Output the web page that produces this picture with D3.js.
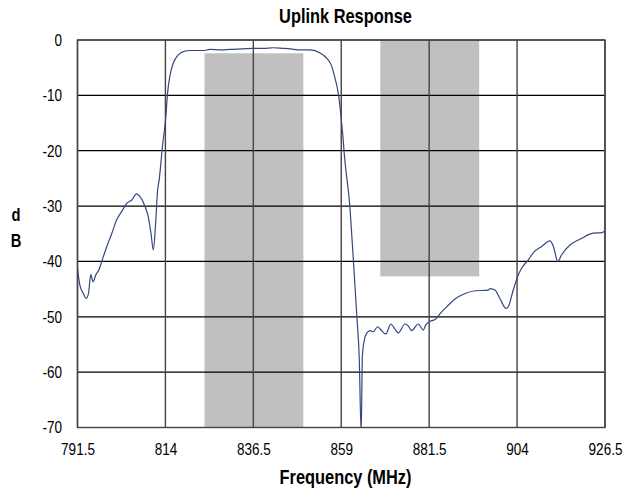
<!DOCTYPE html>
<html>
<head>
<meta charset="utf-8">
<script src="https://cdn.jsdelivr.net/npm/d3@7"></script>
<style>
  body { margin: 0; background: #fff; }
  svg text { font-family: "Liberation Sans", Arial, sans-serif; fill: #000; }
</style>
</head>
<body>
<div class="chart"></div>
<script>
// chart data
const xTicks = [791.5, 814, 836.5, 859, 881.5, 904, 926.5];
const yTicks = [0, -10, -20, -30, -40, -50, -60, -70];

// shaded bands
const bandStart = [824, 869];
const bandEnd = [849.3, 894.3];
const bandTop = [-2.4, 0];
const bandBottom = [-70, -42.7];

// measured response (MHz, dB)
const freq = [
  791.5, 792.1, 793.0, 793.7, 794.3, 794.9, 795.5, 796.2, 797.0, 797.7,
  799.0, 800.3, 801.5, 802.8, 804.1, 805.4, 806.6, 807.5, 808.8, 809.6,
  810.3, 810.9, 811.5, 812.0, 812.4, 813.2, 814.15, 814.5, 815.2, 816.0,
  817.3, 818.6, 820.3, 823.7, 825.4, 828.4, 830.5, 833.5, 836.5, 839,
  841.6, 844, 846, 848.4, 851.0, 853.7, 855.3, 856.6, 857.4, 858.3,
  858.9, 859.4, 859.8, 861.2, 862.1, 863.0, 863.6, 864.1, 864.4, 864.9,
  865.5, 866.4, 867.2, 868.3, 869.2, 870.4, 871.7, 872.6, 873.6, 875.3,
  876.2, 877.0, 878.7, 880.0, 880.6, 881.5, 883.0, 884.7, 886.0, 888.1,
  890.7, 893.3, 896.6, 897.1, 898.4, 899.6, 901.2, 901.8, 903.0, 904.1,
  905.2, 906.9, 908.2, 910.3, 912.4, 913.3, 914.4, 915.4, 917.6, 920.1,
  923.5, 925.7, 926.5
];
const db = [
  -41.2, -44.3, -45.8, -46.7, -45.8, -42.4, -43.7, -42.4, -41.5, -40.0,
  -37.3, -34.9, -32.5, -31.0, -29.5, -28.9, -27.8, -28.3, -30.1, -31.9,
  -34.9, -37.9, -33.1, -27.1, -25.3, -19.5, -13.5, -10.0, -6.3, -4.2,
  -2.7, -2.1, -1.9, -1.9, -1.7, -1.8, -1.7, -1.6, -1.5, -1.5,
  -1.4, -1.5, -1.6, -1.8, -1.8, -2.4, -3.3, -4.8, -6.9, -9.9,
  -13.5, -17.2, -20.8, -30.1, -39.8, -50.0, -57.3, -71, -57.2, -54.2,
  -53.0, -52.5, -52.7, -51.8, -52.4, -53.1, -51.3, -52.1, -52.9, -51.3,
  -51.7, -52.5, -51.3, -52.4, -51.5, -50.9, -50.5, -49.1, -48.2, -46.8,
  -45.8, -45.3, -45.2, -44.9, -45.2, -46.7, -48.5, -48.1, -45.2, -42.8,
  -41.2, -39.7, -38.4, -37.3, -36.3, -37.3, -40.0, -38.8, -37.0, -36.0,
  -34.9, -34.8, -34.5
];

const width = 624, height = 495;
const plotLeft = 77.5, plotRight = 605, plotTop = 40, plotBottom = 427.5;
const squeeze = 0.82; // narrow face look

const svg = d3.select(".chart").append("svg")
    .attr("width", width)
    .attr("height", height);

const x = d3.scaleLinear().domain([791.5, 926.5]).range([plotLeft, plotRight]);
const y = d3.scaleLinear().domain([-70, 0]).range([plotBottom, plotTop]);

svg.append("clipPath").attr("id", "plot")
  .append("rect")
    .attr("x", plotLeft).attr("y", plotTop)
    .attr("width", plotRight - plotLeft).attr("height", plotBottom - plotTop);

// bands
svg.append("g")
  .selectAll("rect")
  .data(bandStart)
  .enter().append("rect")
    .attr("x", d => x(d))
    .attr("y", (d, i) => y(bandTop[i]))
    .attr("width", (d, i) => x(bandEnd[i]) - x(d))
    .attr("height", (d, i) => y(bandBottom[i]) - y(bandTop[i]))
    .attr("fill", "#c0c0c0");

// grid
svg.append("g")
  .selectAll("line")
  .data(yTicks)
  .enter().append("line")
    .attr("x1", plotLeft).attr("x2", plotRight)
    .attr("y1", d => y(d)).attr("y2", d => y(d))
    .attr("stroke", "#000").attr("stroke-width", 1.2);

svg.append("g")
  .selectAll("line")
  .data(xTicks)
  .enter().append("line")
    .attr("x1", d => x(d)).attr("x2", d => x(d))
    .attr("y1", plotTop).attr("y2", plotBottom)
    .attr("stroke", "#444").attr("stroke-width", 1.4);

svg.append("rect")
    .attr("x", plotLeft).attr("y", plotTop)
    .attr("width", plotRight - plotLeft).attr("height", plotBottom - plotTop)
    .attr("fill", "none").attr("stroke", "#444").attr("stroke-width", 1.4);

// curve
const line = d3.line()
    .x((d, i) => x(freq[i]))
    .y(d => y(d))
    .curve(d3.curveMonotoneX);

svg.append("path")
    .datum(db)
    .attr("clip-path", "url(#plot)")
    .attr("d", line)
    .attr("fill", "none")
    .attr("stroke", "#34477f")
    .attr("stroke-width", 1.2);

// axes (labels only)
const xAxis = svg.append("g")
    .attr("transform", `translate(0,${plotBottom})`)
    .call(d3.axisBottom(x).tickValues(xTicks).tickSize(0).tickPadding(16).tickFormat(d => d));
xAxis.attr("font-family", null).select(".domain").remove();
xAxis.selectAll("text")
    .attr("font-size", 16.5)
    .attr("transform", `scale(${squeeze},1)`);

const yAxis = svg.append("g")
    .attr("transform", `translate(${plotLeft},0)`)
    .call(d3.axisLeft(y).tickValues(yTicks).tickSize(0).tickFormat(d => d));
yAxis.attr("font-family", null).select(".domain").remove();
yAxis.selectAll("text")
    .attr("font-size", 16.5)
    .attr("x", -15.5 / squeeze)
    .attr("transform", `scale(${squeeze},1)`);

// titles
function label(txt, cx, cy, size) {
  svg.append("text")
      .attr("transform", `translate(${cx},${cy}) scale(${squeeze},1)`)
      .attr("text-anchor", "middle")
      .attr("font-size", size).attr("font-weight", "bold")
      .text(txt);
}
label("Uplink Response", 345.5, 23, 20);
label("Frequency (MHz)", 345.5, 484, 20);
label("d", 16, 221, 18);
label("B", 16, 247, 18);
</script>
</body>
</html>
